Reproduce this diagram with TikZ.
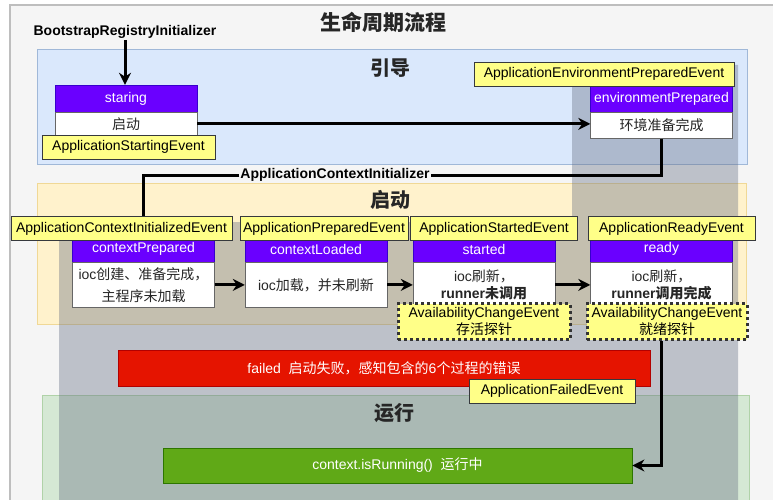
\documentclass[tikz,border=0pt]{standalone}
\usepackage{fontspec}
\setmainfont{Liberation Sans}
\newfontfamily\cjk{Noto Sans CJK SC}
\usetikzlibrary{arrows.meta, positioning, calc}
\definecolor{framefill}{RGB}{245,245,245}
\definecolor{frameedge}{RGB}{190,190,190}
\definecolor{bluezone}{RGB}{218,232,252}
\definecolor{blueedge}{RGB}{160,184,216}
\definecolor{yellowzone}{RGB}{255,242,204}
\definecolor{yellowedge}{RGB}{240,216,150}
\definecolor{greenzone}{RGB}{213,232,212}
\definecolor{greenedge}{RGB}{176,210,168}
\definecolor{overlaygray}{RGB}{100,110,130}
\definecolor{headpurple}{RGB}{106,0,255}
\definecolor{headedge}{RGB}{55,0,204}
\definecolor{evtyellow}{RGB}{255,255,136}
\definecolor{evtedge}{RGB}{54,57,61}
\definecolor{failred}{RGB}{229,20,0}
\definecolor{failedge}{RGB}{178,0,0}
\definecolor{rungreen}{RGB}{96,169,23}
\definecolor{runedge}{RGB}{45,118,0}

\begin{document}
\begin{tikzpicture}[x=1pt, y=-1pt,
  every node/.style={font=\fontsize{14}{16.5}\selectfont},
  zone/.style={line width=1pt},
  zonetitle/.style={font=\fontsize{20}{24}\selectfont\cjk\bfseries, text=black!85},
  hook/.style={font=\fontsize{14}{16.5}\selectfont\bfseries, inner sep=1pt},
  head/.style={fill=headpurple, draw=headedge, text=white, minimum width=142pt, minimum height=26pt, inner sep=0pt},
  body/.style={fill=white, draw=black!60, text=black!85, minimum width=142pt, inner sep=0pt, align=center},
  evt/.style={fill=evtyellow, draw=evtedge, line width=0.8pt, minimum height=24pt, inner xsep=2pt, inner ysep=0pt},
  probe/.style={fill=evtyellow, draw=black!80, line width=3pt, dash pattern=on 3pt off 3pt, minimum height=36pt, inner sep=0pt, align=center},
  bar/.style={text=white, line width=0.8pt, inner sep=0pt},
  flow/.style={line width=3pt, -{Stealth[length=12pt, width=12pt]}},
  link/.style={line width=3pt}]
  \useasboundingbox (0,0) rectangle (773,500);
  \fill[white] (0,0) rectangle (773,500);
  \draw[fill=framefill, draw=frameedge, line width=1.5pt] (10,5) rectangle (800,530);

  % phases
  \draw[zone, fill=bluezone, draw=blueedge] (37,50) rectangle (747,164);
  \draw[zone, fill=yellowzone, draw=yellowedge] (37,183) rectangle (746,324);
  \draw[zone, fill=greenzone, draw=greenedge] (42,395) rectangle (749,520);
  \fill[overlaygray, opacity=0.38] (572,65) -- (738,65) -- (738,520) -- (59,520) -- (59,222) -- (572,222) -- cycle;

  \node[zonetitle, font=\fontsize{21}{24}\selectfont\cjk\bfseries] (tmain) at (383,22) {生命周期流程};
  \node[zonetitle] (tboot) at (390,68) {引导};
  \node[zonetitle] (tstart) at (390,200) {启动};
  \node[zonetitle] (trun) at (394,413) {运行};

  % bootstrap
  \node[hook] (bri) at (125,32) {BootstrapRegistryInitializer};
  \node[head, minimum height=27pt] (sghead) at (126,98.5) {staring};
  \node[body, minimum height=23pt, below=0pt of sghead] (sgbody) {\cjk 启动};
  \node[evt, minimum width=173pt] (sgevt) at (128.5,147) {ApplicationStartingEvent};

  \node[head] (envhead) at (661.5,99) {environmentPrepared};
  \node[body, minimum height=26pt, below=0pt of envhead] (envbody) {\cjk 环境准备完成};
  \node[evt, minimum width=260pt] (envevt) at (604,74) {ApplicationEnvironmentPreparedEvent};

  \node[hook] (aci) at (335,175) {ApplicationContextInitializer};

  % start
  \node[head] (cphead) at (143.5,249) {contextPrepared};
  \node[body, minimum height=45pt, below=0pt of cphead] (cpbody) {ioc{\cjk 创建、准备完成，}\\[5pt]{\cjk 主程序未加载}};
  \node[evt, minimum width=221pt] (cpevt) at (121.5,228.5) {ApplicationContextInitializedEvent};

  \node[head] (clhead) at (316,249) {contextLoaded};
  \node[body, minimum height=45pt, below=0pt of clhead] (clbody) {ioc{\cjk 加载，并未刷新}};
  \node[evt, minimum width=168pt] (clevt) at (324,228.5) {ApplicationPreparedEvent};

  \node[head] (sdhead) at (484,249) {started};
  \node[body, minimum height=45pt, below=0pt of sdhead] (sdbody) {ioc{\cjk 刷新，}\\\textbf{runner{\cjk 未调用}}};
  \node[evt, minimum width=167pt] (sdevt) at (494,228.5) {ApplicationStartedEvent};

  \node[head] (rdhead) at (661.5,249) {ready};
  \node[body, minimum height=45pt, below=0pt of rdhead] (rdbody) {ioc{\cjk 刷新，}\\\textbf{runner{\cjk 调用完成}}};
  \node[evt, minimum width=167pt] (rdevt) at (671.5,228.5) {ApplicationReadyEvent};

  \node[probe, minimum width=172pt] (sdprobe) at (484,321.5) {AvailabilityChangeEvent\\{\cjk 存活探针}};
  \node[probe, minimum width=160pt] (rdprobe) at (667,321.5) {AvailabilityChangeEvent\\{\cjk 就绪探针}};

  \node[bar, fill=failred, draw=failedge, minimum width=532pt, minimum height=36pt] (failed) at (384,368) {failed\ \ {\cjk 启动失败，感知包含的}6{\cjk 个过程的错误}};
  \node[evt, minimum width=166pt] (failevt) at (552,391) {ApplicationFailedEvent};

  % run
  \node[bar, fill=rungreen, draw=runedge, minimum width=469pt, minimum height=35pt] (running) at (397.5,465.5) {context.isRunning()\ \ {\cjk 运行中}};

  % connectors
  \draw[flow] (bri.south) -- (bri.south |- sghead.north);
  \draw[flow] (sgbody.east) -- (sgbody.east -| envbody.west);
  \draw[link] (envbody.south) |- (aci.east);
  \draw[link] (aci.west) -| (cphead.north |- cpevt.north);
  \draw[flow] (cpbody) -- (clbody);
  \draw[flow] (clbody) -- (sdbody);
  \draw[flow] (sdbody) -- (rdbody);
  \draw[flow] (rdhead.south |- rdprobe.south) |- (running.east);
\end{tikzpicture}
\end{document}
